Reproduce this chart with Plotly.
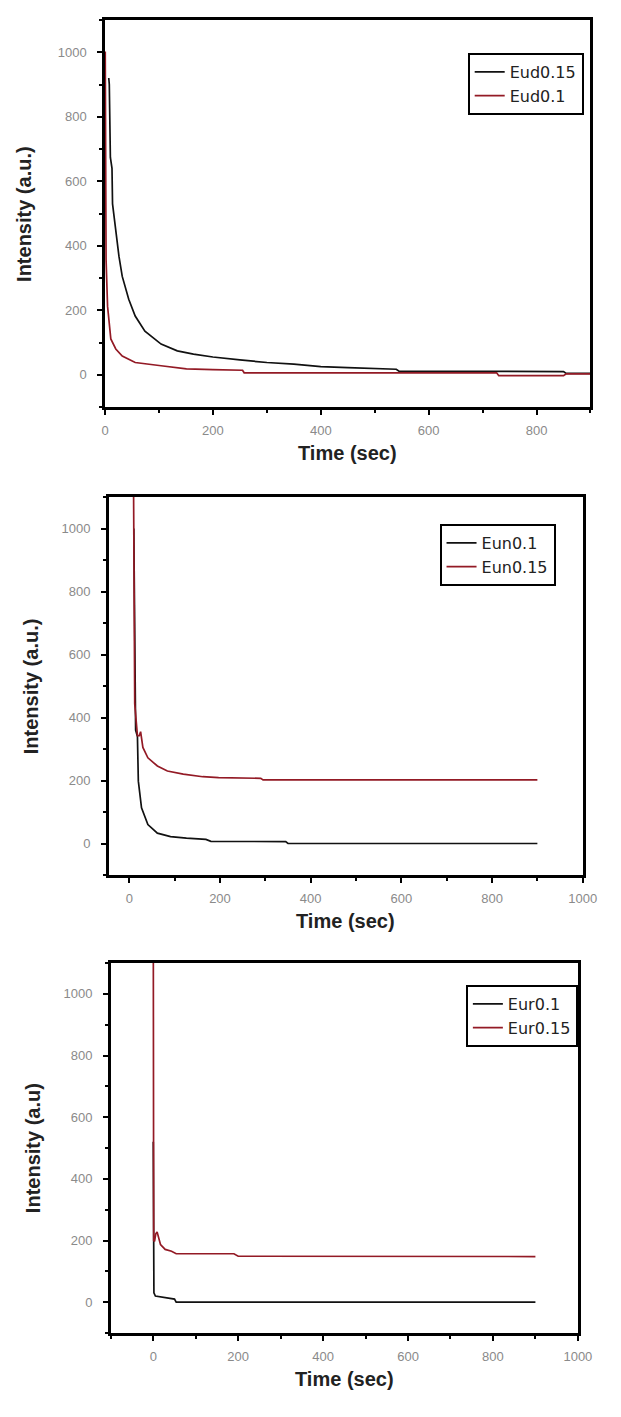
import plotly.graph_objects as go

W, H = 621, 1417

# ---------------- data ----------------
# Panel 1
eud015_t = [7, 8, 10, 13, 14, 20, 26, 32, 44, 56, 74, 104, 134, 164, 200, 250, 300, 350, 400, 450, 500, 540, 545, 600, 700, 800, 850, 855, 900]
eud015_v = [920, 900, 674, 640, 530, 438, 366, 305, 234, 182, 135, 95, 74, 64, 55, 46, 38, 33, 25, 22, 20, 17, 11, 11, 10, 10, 10, 4, 4]
eud01_t = [0, 0.5, 2, 4.8, 10.8, 20, 32, 56, 104, 151, 200, 255, 258, 500, 726, 730, 850, 855, 900]
eud01_v = [1000, 1000, 357, 212, 111, 80, 58, 38, 28, 18, 16, 14, 6, 6, 6, -3, -3, 3, 3]

# Panel 2
eun01_t = [10, 14, 18, 20, 27, 41, 62, 91, 126, 169, 180, 345, 350, 900]
eun01_v = [1000, 360, 340, 198, 113, 60, 33, 22, 17, 13, 7, 6, 0, 0]
eun015_t = [9, 10, 12, 18, 22, 25, 30, 41, 62, 84, 119, 162, 197, 290, 295, 900]
eun015_v = [1250, 1000, 444, 342, 342, 355, 305, 272, 246, 230, 220, 212, 209, 207, 202, 202]

# Panel 3
eur01_t = [0, 0.5, 1, 1.5, 5, 24, 43, 50, 54, 900]
eur01_v = [520, 210, 197, 30, 20, 16, 10, 10, 0, 0]
eur015_t = [0, 0.5, 1, 3, 6, 9, 13, 17, 28, 43, 54, 190, 200, 900]
eur015_v = [1250, 520, 200, 197, 222, 228, 205, 187, 171, 165, 157, 157, 149, 148]

ytick_vals = [0, 200, 400, 600, 800, 1000]
xtick_vals_1 = [0, 200, 400, 600, 800]
xtick_vals_23 = [0, 200, 400, 600, 800, 1000]

BLACK = "#111111"
RED = "#931a25"
FONT = "Liberation Sans, Arial, sans-serif"
LEGFONT = "DejaVu Sans, sans-serif"

# pixel boxes of plot areas: (left, right, top, bottom)
boxes = [
    (104, 604, 20, 407),
    (108, 596, 497, 875),
    (110, 591, 963, 1333),
]
xranges = [[0, 900], [-45, 1000], [-100, 1000]]
xtickss = [xtick_vals_1, xtick_vals_23, xtick_vals_23]
ytitles = ["Intensity (a.u.)", "Intensity (a.u.)", "Intensity (a.u)"]
ytitle_x = [20, 28, 30]
legend_boxes = [(597, 53), (568, 524), (591, 985)]

series = [
    [("Eud0.15", eud015_t, eud015_v, BLACK), ("Eud0.1", eud01_t, eud01_v, RED)],
    [("Eun0.1", eun01_t, eun01_v, BLACK), ("Eun0.15", eun015_t, eun015_v, RED)],
    [("Eur0.1", eur01_t, eur01_v, BLACK), ("Eur0.15", eur015_t, eur015_v, RED)],
]

fig = go.Figure()
layout = dict(
    width=W, height=H, margin=dict(l=0, r=0, t=0, b=0),
    paper_bgcolor="white", plot_bgcolor="white",
    font=dict(family=FONT, color="#222"),
    annotations=[],
)

for i in range(3):
    k = "" if i == 0 else str(i + 1)
    l, r, t, b = boxes[i]
    legname = "legend" + k
    for name, xs, ys, col in series[i]:
        fig.add_trace(go.Scatter(
            x=xs, y=ys, mode="lines", name=name,
            line=dict(color=col, width=1.7),
            xaxis="x" + k, yaxis="y" + k, legend=legname,
        ))
    axcommon = dict(
        showline=True, linecolor="black", linewidth=2.5, mirror=True,
        showgrid=False, zeroline=False,
        ticks="outside", ticklen=5, tickwidth=2, tickcolor="black",
        tickfont=dict(family=FONT, size=13, color="#8a8a8a"),
        minor=dict(ticks="outside", ticklen=3, tickwidth=2, tickcolor="black", dtick=100, showgrid=False),
    )
    layout["xaxis" + k] = dict(
        axcommon, domain=[l / W, r / W], range=xranges[i],
        tickvals=xtickss[i], ticklabelstandoff=5,
        anchor="y" + k,
    )
    layout["yaxis" + k] = dict(
        axcommon, domain=[1 - b / H, 1 - t / H], range=[-100, 1100],
        tickvals=ytick_vals, ticklabelstandoff=8,
        anchor="x" + k,
    )
    lx, ly = legend_boxes[i]
    layout[legname] = dict(
        x=lx / W, y=1 - ly / H, xanchor="right", yanchor="top",
        bgcolor="white", bordercolor="black", borderwidth=2,
        font=dict(family=LEGFONT, size=16, color="#222"),
        tracegroupgap=0, itemwidth=30,
    )
    layout["annotations"].append(dict(
        text="<b>Time (sec)</b>", xref="paper", yref="paper",
        x=((l + r) / 2) / W, y=1 - (b + 46) / H, showarrow=False,
        font=dict(family=FONT, size=20, color="#222"),
        xanchor="center", yanchor="middle",
    ))
    layout["annotations"].append(dict(
        text="<b>" + ytitles[i] + "</b>", xref="paper", yref="paper",
        x=ytitle_x[i] / W, y=1 - ((t + b) / 2) / H, showarrow=False, textangle=-90,
        font=dict(family=FONT, size=20, color="#222"),
        xanchor="center", yanchor="middle",
    ))

fig.update_layout(**layout)
fig.write_html("out.html")
